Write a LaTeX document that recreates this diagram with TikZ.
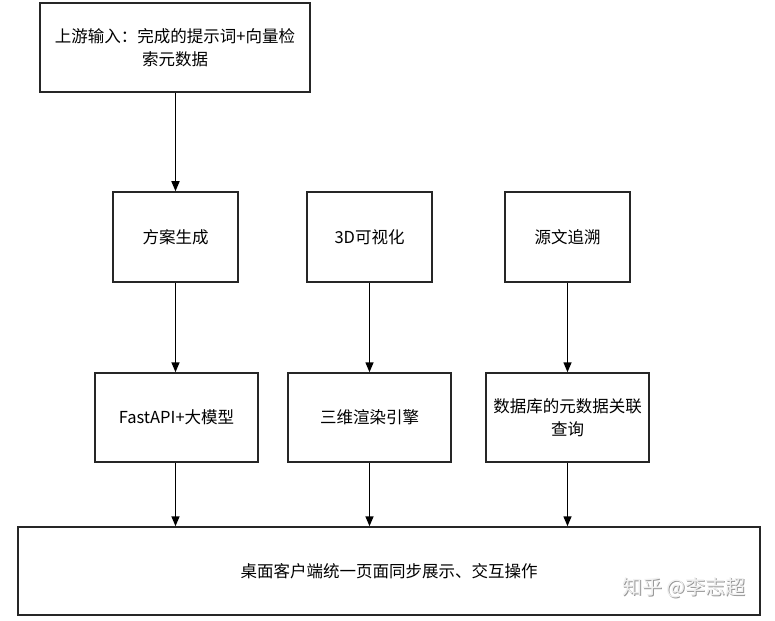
\documentclass[tikz,border=0pt]{standalone}
\usepackage{fontspec}
\setmainfont{Noto Sans CJK SC}
\usetikzlibrary{arrows.meta}
\begin{document}
\begin{tikzpicture}[x=1pt,y=-1pt,
  box/.style={draw=black!85,line width=1.5pt,fill=white,inner sep=0pt,font=\fontsize{16.5}{23}\selectfont,align=center},
  conn/.style={draw=black,line width=1.5pt,-{Triangle[length=10pt,width=8pt]}},
  wm/.style={font=\fontsize{20}{24}\selectfont,inner sep=0pt}]
\useasboundingbox[fill=white] (0,0) rectangle (775,620);
\node[box,minimum width=270pt,minimum height=89pt] (top) at (175,47.5) {上游输入：完成的提示词+向量检\\索元数据};
\node[box,minimum width=125pt,minimum height=90pt] (m1) at (175.5,237) {方案生成};
\node[box,minimum width=125pt,minimum height=90pt] (m2) at (369.5,237) {3D可视化};
\node[box,minimum width=125pt,minimum height=90pt] (m3) at (567.5,237) {源文追溯};
\node[box,minimum width=163pt,minimum height=89pt] (l1) at (176.5,417.5) {FastAPI+大模型};
\node[box,minimum width=163pt,minimum height=89pt] (l2) at (369.5,417.5) {三维渲染引擎};
\node[box,minimum width=163pt,minimum height=89pt] (l3) at (567.5,417.5) {数据库的元数据关联\\查询};
\node[box,minimum width=742pt,minimum height=88pt] (bot) at (389,571) {桌面客户端统一页面同步展示、交互操作};
\draw[conn] (top.south -| m1) -- (m1.north);
\draw[conn] (m1.south) -- (l1.north -| m1);
\draw[conn] (m2.south) -- (l2.north);
\draw[conn] (m3.south) -- (l3.north);
\draw[conn] (l1.south -| m1) -- (bot.north -| m1);
\draw[conn] (l2.south) -- (bot.north -| l2);
\draw[conn] (l3.south) -- (bot.north -| l3);
\node[wm,text=black!40] (wmshadow) at (684.7,588.7) {知乎 @李志超};
\node[wm,text=black!6] (wmtext) at (684,588) {知乎 @李志超};
\end{tikzpicture}
\end{document}
